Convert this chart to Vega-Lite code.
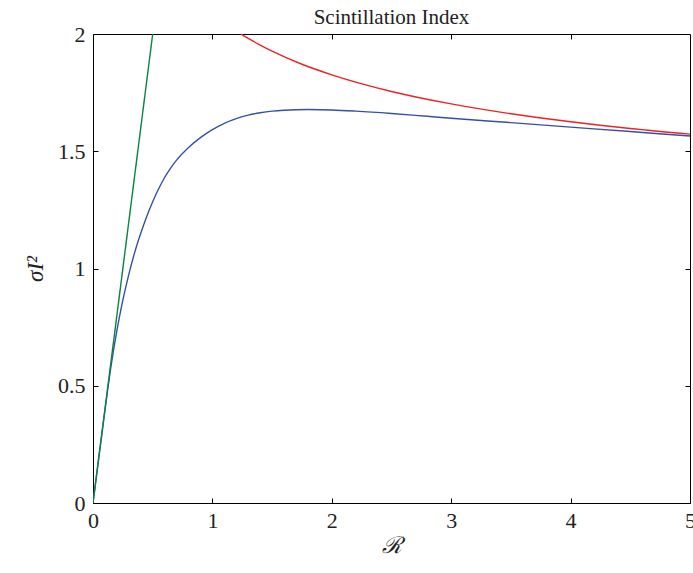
{
  "$schema": "https://vega.github.io/schema/vega-lite/v6.json",
  "autosize": "none",
  "width": 597,
  "height": 469,
  "padding": {"left": 93, "top": 34, "right": 3, "bottom": 70},
  "background": "white",
  "config": {
    "view": {"stroke": "black", "strokeWidth": 1},
    "font": "Liberation Serif",
    "axis": {
      "domainColor": "black",
      "tickColor": "black",
      "labelColor": "#222222",
      "titleColor": "#222222",
      "labelFont": "Liberation Serif",
      "titleFont": "Liberation Serif",
      "labelFontSize": 22,
      "titleFontSize": 23,
      "titleFontWeight": "normal",
      "tickSize": 5,
      "tickWidth": 1,
      "grid": false
    }
  },
  "title": {"text": "Scintillation Index", "anchor": "middle", "font": "Liberation Serif", "fontSize": 21, "fontWeight": "normal", "color": "#222222", "offset": 4, "dy": 9},
  "data": {
    "values": [
      {"s": "blue", "R": 0, "v": 0},
      {"s": "blue", "R": 0.05, "v": 0.2},
      {"s": "blue", "R": 0.1, "v": 0.395},
      {"s": "blue", "R": 0.15, "v": 0.58},
      {"s": "blue", "R": 0.2, "v": 0.735},
      {"s": "blue", "R": 0.25, "v": 0.865},
      {"s": "blue", "R": 0.3, "v": 0.975},
      {"s": "blue", "R": 0.35, "v": 1.07},
      {"s": "blue", "R": 0.4, "v": 1.15},
      {"s": "blue", "R": 0.45, "v": 1.222},
      {"s": "blue", "R": 0.5, "v": 1.285},
      {"s": "blue", "R": 0.55, "v": 1.34},
      {"s": "blue", "R": 0.6, "v": 1.388},
      {"s": "blue", "R": 0.65, "v": 1.428},
      {"s": "blue", "R": 0.7, "v": 1.462},
      {"s": "blue", "R": 0.8, "v": 1.516},
      {"s": "blue", "R": 0.9, "v": 1.558},
      {"s": "blue", "R": 1.0, "v": 1.592},
      {"s": "blue", "R": 1.1, "v": 1.619},
      {"s": "blue", "R": 1.2, "v": 1.639},
      {"s": "blue", "R": 1.3, "v": 1.654},
      {"s": "blue", "R": 1.4, "v": 1.664},
      {"s": "blue", "R": 1.5, "v": 1.671},
      {"s": "blue", "R": 1.6, "v": 1.675},
      {"s": "blue", "R": 1.8, "v": 1.678},
      {"s": "blue", "R": 2.0, "v": 1.676},
      {"s": "blue", "R": 2.2, "v": 1.671},
      {"s": "blue", "R": 2.5, "v": 1.661},
      {"s": "blue", "R": 2.8, "v": 1.649},
      {"s": "blue", "R": 3.0, "v": 1.641},
      {"s": "blue", "R": 3.5, "v": 1.622},
      {"s": "blue", "R": 4.0, "v": 1.603},
      {"s": "blue", "R": 4.5, "v": 1.584},
      {"s": "blue", "R": 5.0, "v": 1.565},
      {"s": "green", "R": 0, "v": 0},
      {"s": "green", "R": 0.5, "v": 2},
      {"s": "red", "R": 1.24, "v": 2.0},
      {"s": "red", "R": 1.3, "v": 1.981},
      {"s": "red", "R": 1.4, "v": 1.953},
      {"s": "red", "R": 1.5, "v": 1.927},
      {"s": "red", "R": 1.75, "v": 1.871},
      {"s": "red", "R": 2.0, "v": 1.826},
      {"s": "red", "R": 2.5, "v": 1.755},
      {"s": "red", "R": 3.0, "v": 1.702},
      {"s": "red", "R": 3.5, "v": 1.66},
      {"s": "red", "R": 4.0, "v": 1.626},
      {"s": "red", "R": 4.5, "v": 1.597},
      {"s": "red", "R": 5.0, "v": 1.573}
    ]
  },
  "layer": [
    {
      "mark": {"type": "line", "strokeWidth": 1.4, "clip": true, "interpolate": "monotone"},
      "encoding": {
        "x": {"field": "R", "type": "quantitative", "scale": {"domain": [0, 5], "nice": false},
              "axis": {"orient": "bottom", "values": [0, 1, 2, 3, 4, 5], "format": "~g", "ticks": false, "labelPadding": 7, "title": "ℛ", "titleFont": "DejaVu Serif", "titleFontStyle": "italic", "titlePadding": 3, "labelFlush": false}},
        "y": {"field": "v", "type": "quantitative", "scale": {"domain": [0, 2], "nice": false},
              "axis": {"orient": "left", "values": [0, 0.5, 1, 1.5, 2], "format": "~g", "ticks": false, "labelPadding": 8, "title": "σI²", "titleFontStyle": "italic", "titlePadding": 10, "labelFlush": false}},
        "color": {"field": "s", "type": "nominal", "legend": null,
                  "scale": {"domain": ["blue", "green", "red"], "range": ["#3450a6", "#0a8243", "#ee2226"]}}
      }
    },
    {
      "mark": {"type": "line", "opacity": 0},
      "encoding": {
        "x": {"field": "R", "type": "quantitative", "axis": {"orient": "top", "offset": -469, "domain": false, "values": [1, 2, 3, 4], "labels": false, "title": null}},
        "y": {"field": "v", "type": "quantitative", "axis": {"orient": "right", "offset": -597, "domain": false, "values": [0.5, 1, 1.5], "labels": false, "title": null}},
        "detail": {"field": "s", "type": "nominal"}
      }
    },
    {
      "mark": {"type": "line", "opacity": 0},
      "encoding": {
        "x": {"field": "R", "type": "quantitative", "axis": {"orient": "bottom", "offset": -469, "domain": false, "values": [1, 2, 3, 4], "labels": false, "title": null}},
        "y": {"field": "v", "type": "quantitative", "axis": {"orient": "left", "offset": -597, "domain": false, "values": [0.5, 1, 1.5], "labels": false, "title": null}},
        "detail": {"field": "s", "type": "nominal"}
      }
    }
  ],
  "resolve": {"axis": {"x": "independent", "y": "independent"}}
}
